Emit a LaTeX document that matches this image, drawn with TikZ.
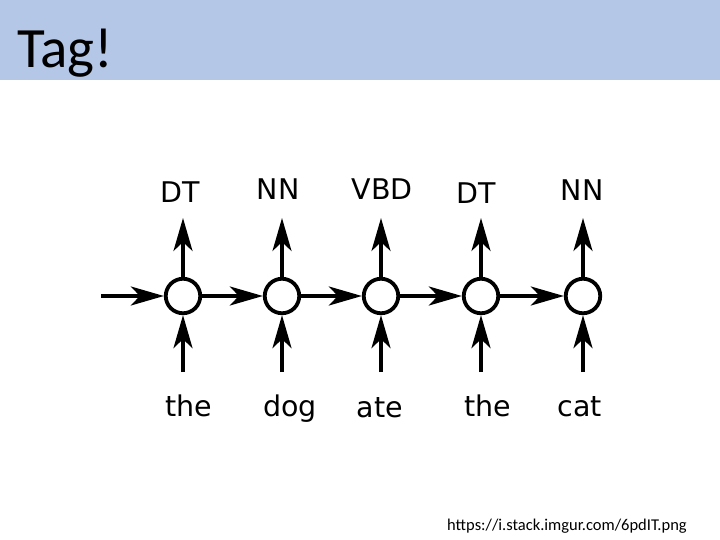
\documentclass[tikz,border=0pt]{standalone}
\usepackage{fontspec}
\setmainfont{Carlito}
\newfontfamily\tagfont{DejaVu Sans}
\usetikzlibrary{arrows.meta}
\definecolor{banner}{HTML}{B4C7E7}
\definecolor{ink}{HTML}{000000}
\tikzset{
  cell/.style={circle, draw=ink, fill=white, line width=3.8pt, minimum size=34.5pt, inner sep=0pt},
  flow/.style={-{Stealth[length=33pt,width=19pt,inset=9pt]}, line width=3.3pt, draw=ink},
  tagtext/.style={font=\tagfont\fontsize{28.5}{30}\selectfont, anchor=base, inner sep=0pt},
  titletext/.style={font=\fontsize{57}{60}\selectfont, anchor=base west, inner sep=0pt},
  srctext/.style={font=\fontsize{16.5}{18}\selectfont, anchor=base west, inner sep=0pt}
}

\begin{document}
\begin{tikzpicture}[x=1pt,y=-1pt]
  \useasboundingbox (0,0) rectangle (720,540);
  \fill[banner] (0,0) rectangle (720,80);
  \node[titletext] (title) at (17,68) {Tag!};
  % cells of the tagger
  \node[cell] (c1) at (183,296) {};
  \node[cell] (c2) at (282,296) {};
  \node[cell] (c3) at (381,296) {};
  \node[cell] (c4) at (481,296) {};
  \node[cell] (c5) at (583,296) {};
  % free ends
  \coordinate (start) at (101,296);
  \coordinate (in1) at (183,372);  \coordinate (out1) at (183,218);
  \coordinate (in2) at (282,372);  \coordinate (out2) at (282,218);
  \coordinate (in3) at (381,372);  \coordinate (out3) at (381,218);
  \coordinate (in4) at (481,372);  \coordinate (out4) at (481,218);
  \coordinate (in5) at (583,372);  \coordinate (out5) at (583,218);
  % recurrence
  \draw[flow] (start) -- (c1);
  \draw[flow] (c1) -- (c2);
  \draw[flow] (c2) -- (c3);
  \draw[flow] (c3) -- (c4);
  \draw[flow] (c4) -- (c5);
  % inputs and outputs
  \draw[flow] (in1) -- (c1);  \draw[flow] (c1) -- (out1);
  \draw[flow] (in2) -- (c2);  \draw[flow] (c2) -- (out2);
  \draw[flow] (in3) -- (c3);  \draw[flow] (c3) -- (out3);
  \draw[flow] (in4) -- (c4);  \draw[flow] (c4) -- (out4);
  \draw[flow] (in5) -- (c5);  \draw[flow] (c5) -- (out5);
  % tags
  \node[tagtext] (t1) at (180,203) {DT};
  \node[tagtext] (t2) at (278,200) {NN};
  \node[tagtext] (t3) at (382,200) {VBD};
  \node[tagtext] (t4) at (476,204) {DT};
  \node[tagtext] (t5) at (582,201) {NN};
  % words
  \node[tagtext] (w1) at (189,416) {the};
  \node[tagtext] (w2) at (290,416) {dog};
  \node[tagtext] (w3) at (380,417) {ate};
  \node[tagtext] (w4) at (488,416) {the};
  \node[tagtext] (w5) at (580,416) {cat};
  \node[srctext] (src) at (447,530) {https://i.stack.imgur.com/6pdIT.png};
\end{tikzpicture}
\end{document}
